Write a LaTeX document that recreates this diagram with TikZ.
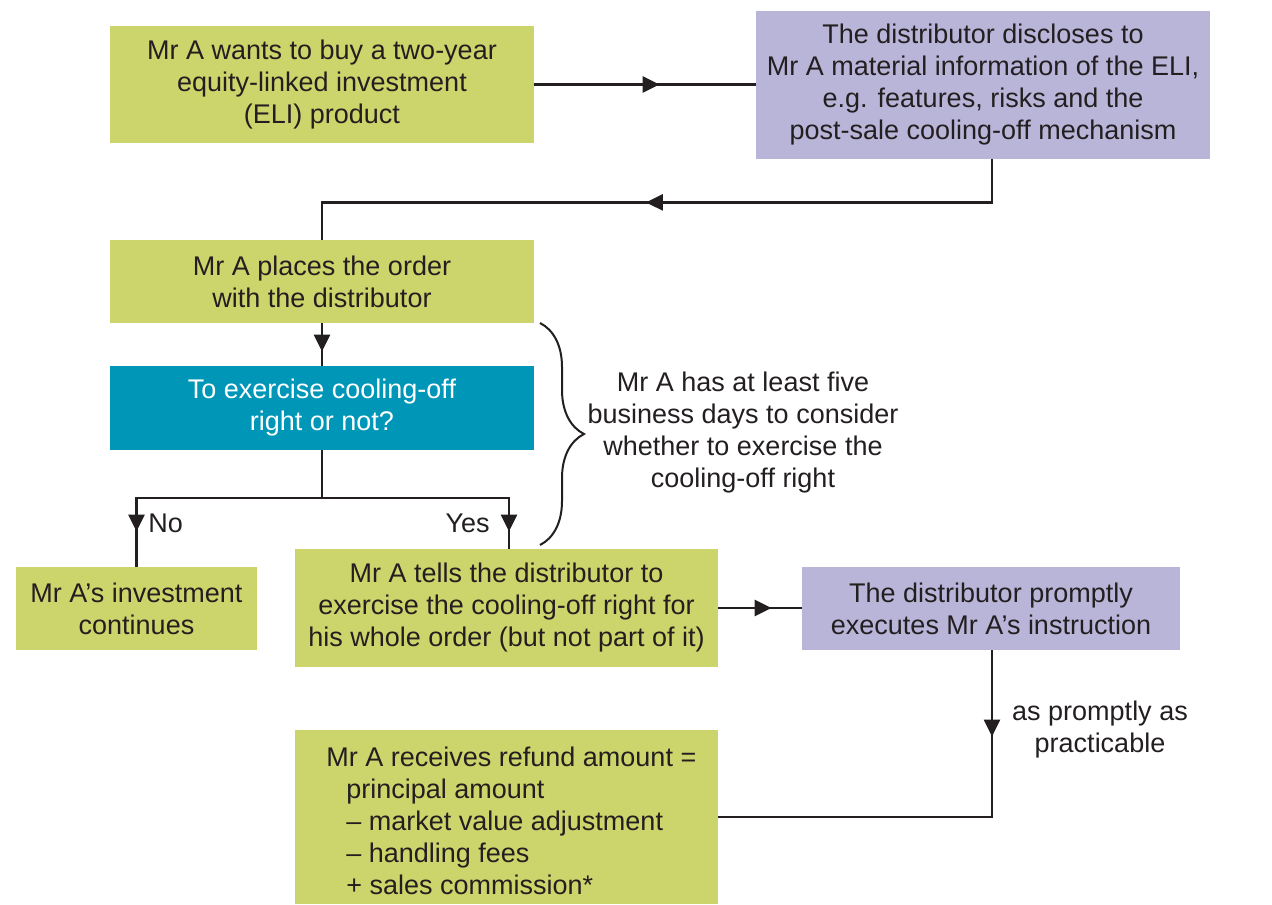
\documentclass[tikz,border=0pt]{standalone}
\usepackage{fontspec}
\setmainfont{Liberation Sans}
\usetikzlibrary{arrows.meta,decorations.markings,decorations.pathreplacing}
\definecolor{boxgreen}{RGB}{204,213,107}
\definecolor{boxpurple}{RGB}{185,181,217}
\definecolor{boxteal}{RGB}{0,150,184}
\definecolor{ink}{RGB}{35,31,32}
\begin{document}
\begin{tikzpicture}[x=0.5pt,y=-0.5pt,
  box/.style={rectangle, inner sep=0pt, align=center, text=ink, font=\fontsize{13.5}{16}\selectfont},
  greenbox/.style={box, fill=boxgreen},
  purplebox/.style={box, fill=boxpurple},
  tealbox/.style={box, fill=boxteal, text=white},
  lbl/.style={inner sep=0pt, align=center, text=ink, font=\fontsize{13.5}{16}\selectfont},
  conn/.style={draw=ink, line width=1.2pt},
  tipat/.style={postaction={decorate, decoration={markings, mark=at position #1 with {\arrow{Triangle[length=8.5pt,width=8pt]}}}}}
]
\useasboundingbox (0,0) rectangle (1272,904);

\node[greenbox, minimum width=212pt, minimum height=58.5pt] (b1) at (322,84.5)
  {Mr A wants to buy a two-year\\equity-linked investment\\(ELI) product};
\node[purplebox, minimum width=227pt, minimum height=74pt] (b2) at (983,85)
  {The distributor discloses to\\Mr A material information of the ELI,\\e.g. features, risks and the\\post-sale cooling-off mechanism};
\node[greenbox, minimum width=212pt, minimum height=41.5pt] (b3) at (322,281.5)
  {Mr A places the order\\with the distributor};
\node[tealbox, minimum width=212pt, minimum height=42pt] (b4) at (322,408)
  {To exercise cooling-off\\right or not?};
\node[greenbox, minimum width=120.5pt, minimum height=41.5pt] (b5) at (136.5,608.5)
  {Mr A’s investment\\continues};
\node[greenbox, minimum width=211.5pt, minimum height=59pt] (b6) at (506.5,608)
  {Mr A tells the distributor to\\exercise the cooling-off right for\\his whole order (but not part of it)};
\node[purplebox, minimum width=189pt, minimum height=41.5pt] (b7) at (991,608.5)
  {The distributor promptly\\executes Mr A’s instruction};
\node[greenbox, minimum width=211.5pt, minimum height=87pt] (b8) at (506.5,817) {};
\node[lbl, align=left, anchor=west] (b8text) at (326,821)
  {Mr A receives refund amount =\\
   \hspace*{10pt}principal amount\\
   \hspace*{10pt}– market value adjustment\\
   \hspace*{10pt}– handling fees\\
   \hspace*{10pt}+ sales commission*};

\coordinate (split) at (322,498);

\draw[conn, tipat=-48pt] (b1.east) -- (b1.east -| b2.west);
\draw[conn, tipat=-180.5pt] ([xshift=4.5pt]b2.south) -- ++(0,43) -| (b3.north);
\draw[conn, tipat=-7pt] (b3.south) -- (b4.north);
\draw[conn] (b4.south) -- (split);
\draw[conn, tipat=-17.5pt] (split) -| (b5.north);
\draw[conn, tipat=-8.5pt] (split) -| ([xshift=1.25pt]b6.north);
\draw[conn, tipat=-15pt] (b6.east) -- (b6.east -| b7.west);
\draw[conn, tipat=-177pt] ([xshift=0.5pt]b7.south) |- (b8.east);

\node[lbl, anchor=west] (no) at (148,523) {No};
\node[lbl, anchor=east] (yes) at (490,523) {Yes};
\node[lbl] (prompt) at (1100,730) {as promptly as\\practicable};

\draw[ink, line width=1pt, decorate, decoration={brace, amplitude=22pt}] (540,323) -- (540,545);
\node[lbl] (days) at (743,433) {Mr A has at least five\\business days to consider\\whether to exercise the\\cooling-off right};
\end{tikzpicture}
\end{document}
